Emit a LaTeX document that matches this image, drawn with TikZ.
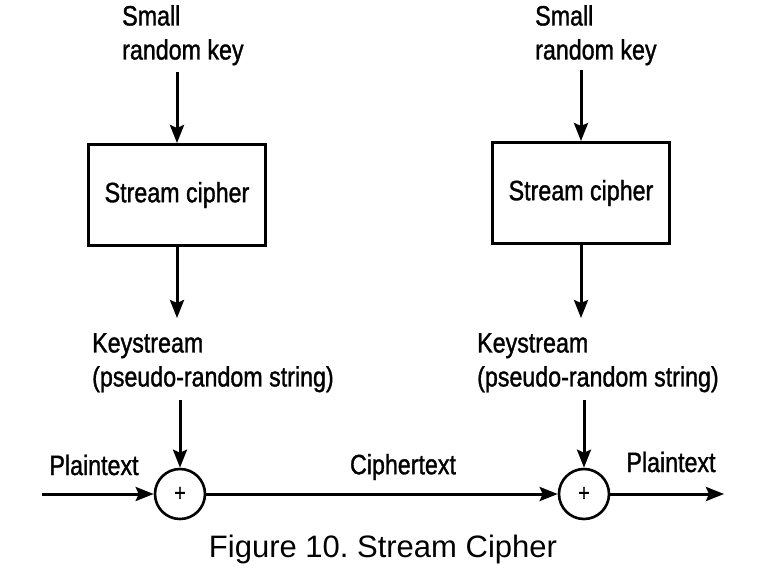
\documentclass[tikz,border=0pt]{standalone}
\usepackage{fontspec}
\setmainfont{Liberation Sans}
\newfontfamily\cf[FakeStretch=0.83,FakeBold=1.2]{Liberation Sans}
\usetikzlibrary{arrows.meta}
\begin{document}
\begin{tikzpicture}[x=1pt,y=-1pt,
  lbl/.style={font=\cf\fontsize{28}{34}\selectfont, align=left, inner sep=0pt},
  cbox/.style={draw, line width=3pt, minimum width=177pt, minimum height=101pt, inner sep=0pt, font=\cf\fontsize{28}{34}\selectfont},
  xorc/.style={draw, circle, line width=2.6pt, minimum size=50pt, inner sep=0pt, font=\cf\fontsize{24}{24}\selectfont},
  arr/.style={line width=3pt, -{Stealth[length=18pt,width=14pt,inset=3pt]}}]
\useasboundingbox (0,0) rectangle (769,574);
% keys
\node[lbl, anchor=north west] (k1) at (122,5) {Small\\random key};
\node[lbl, anchor=north west] (k2) at (535,5) {Small\\random key};
% boxes
\node[cbox] (sc1) at (177,195) {Stream cipher};
\node[cbox] (sc2) at (581,193) {Stream cipher};
% keystream
\node[lbl, anchor=north west] (ks1) at (92,333) {Keystream\\(pseudo-random string)};
\node[lbl, anchor=north west] (ks2) at (477,333) {Keystream\\(pseudo-random string)};
% xor
\node[xorc] (x1) at (180,494) {+};
\node[xorc] (x2) at (584,494) {+};
% labels
\node[lbl] (pt1) at (94,465) {Plaintext};
\node[lbl] (ct) at (403,467) {Ciphertext};
\node[lbl] (pt2) at (671,462) {Plaintext};
\coordinate (in) at (42,494);
\coordinate (out) at (724,494);
% arrows
\draw[arr] (sc1.north |- 0,72) -- (sc1.north);
\draw[arr] (sc2.north |- 0,70) -- (sc2.north);
\draw[arr] (sc1.south) -- (sc1.south |- 0,318);
\draw[arr] (sc2.south) -- (sc2.south |- 0,318);
\draw[arr] (x1.north |- 0,400) -- (x1.north);
\draw[arr] (x2.north |- 0,400) -- (x2.north);
\draw[arr] (in) -- (x1.west);
\draw[arr] (x1.east) -- (x2.west);
\draw[arr] (x2.east) -- (out);
% caption
\node[font=\fontsize{31}{31}\selectfont, inner sep=0pt] (cap) at (383,549) {\frenchspacing Figure 10. Stream Cipher};
\end{tikzpicture}
\end{document}
